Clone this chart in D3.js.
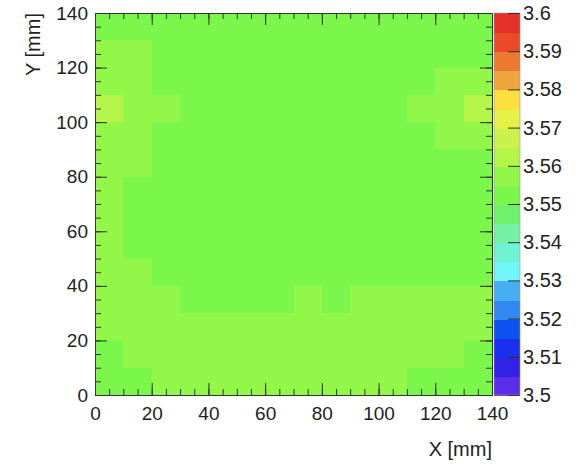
<!DOCTYPE html>
<html>
<head>
<meta charset="utf-8">
<script src="https://cdn.jsdelivr.net/npm/d3@7"></script>
<style>
  body{margin:0;background:#fff;}
  text{font-family:"Liberation Sans",Arial,Helvetica,sans-serif;fill:#222;}
</style>
</head>
<body>
<svg id="chart"></svg>
<script>
// bin edges (mm)
var xEdges=[0,10,20,30,40,50,60,70,80,90,100,110,120,130,140];
var yEdges=[0,10,20,30,40,50,60,70,80,90,100,110,120,130,140];
var axisTicks=[0,20,40,60,80,100,120,140];
// colour contours
var levels=[3.5,3.505,3.51,3.515,3.52,3.525,3.53,3.535,3.54,3.545,3.55,3.555,3.56,3.565,3.57,3.575,3.58,3.585,3.59,3.595,3.6];
var paletteColors=["#5a2ee8","#3222e8","#1a30f0","#0c52f0","#3088f0","#48aef2","#70f6f8","#6ef2d2","#74f2a4","#6ef26c",
                   "#7bf74c","#93f74a","#b6f44a","#caf24a","#e6f148","#fbe040","#f0a53c","#ec7a30","#ea4a28","#e6302a"];
var paletteLabels=[3.5,3.51,3.52,3.53,3.54,3.55,3.56,3.57,3.58,3.59,3.6];
// z values, rows from y=130 (top) down to y=0
var zRows=[
  [3.553,3.553,3.552,3.552,3.553,3.553,3.552,3.552,3.553,3.553,3.552,3.553,3.553,3.553],
  [3.557,3.556,3.553,3.552,3.552,3.552,3.552,3.552,3.552,3.552,3.553,3.553,3.554,3.554],
  [3.558,3.557,3.554,3.552,3.552,3.551,3.551,3.551,3.551,3.552,3.553,3.554,3.556,3.557],
  [3.561,3.558,3.556,3.553,3.552,3.551,3.551,3.551,3.551,3.552,3.553,3.556,3.558,3.561],
  [3.558,3.557,3.554,3.552,3.551,3.551,3.551,3.551,3.551,3.552,3.553,3.554,3.556,3.557],
  [3.557,3.556,3.553,3.552,3.551,3.551,3.551,3.551,3.551,3.551,3.552,3.553,3.554,3.554],
  [3.557,3.554,3.552,3.551,3.551,3.551,3.551,3.551,3.551,3.551,3.552,3.552,3.553,3.554],
  [3.557,3.554,3.552,3.551,3.551,3.551,3.551,3.551,3.551,3.551,3.551,3.552,3.553,3.554],
  [3.557,3.554,3.553,3.552,3.551,3.551,3.551,3.551,3.551,3.551,3.552,3.552,3.553,3.554],
  [3.558,3.556,3.554,3.553,3.552,3.552,3.552,3.553,3.553,3.553,3.553,3.554,3.554,3.554],
  [3.558,3.557,3.556,3.554,3.554,3.554,3.554,3.556,3.554,3.556,3.556,3.556,3.557,3.557],
  [3.557,3.558,3.557,3.556,3.556,3.556,3.556,3.557,3.557,3.557,3.557,3.557,3.557,3.556],
  [3.554,3.557,3.558,3.557,3.557,3.557,3.557,3.557,3.557,3.557,3.557,3.556,3.556,3.554],
  [3.553,3.554,3.556,3.557,3.557,3.557,3.557,3.557,3.557,3.557,3.556,3.554,3.554,3.553]
];

var width=578, height=476;
var margin={top:13,bot:81,left:95,right:86};
var svg=d3.select("#chart").attr("width",width).attr("height",height);

var xScale=d3.scaleLinear().domain([0,140]).range([margin.left,width-margin.right]);
var yScale=d3.scaleLinear().domain([0,140]).range([height-margin.bot,margin.top]);
var color=d3.scaleThreshold().domain(levels.slice(1,-1)).range(paletteColors);

// cells
var cells=[];
zRows.forEach(function(row,r){
  row.forEach(function(z,c){
    cells.push({x0:xEdges[c],x1:xEdges[c+1],y1:yEdges[13-r+1],y0:yEdges[13-r],z:z});
  });
});
svg.append("g").attr("shape-rendering","crispEdges")
   .selectAll("rect").data(cells).enter().append("rect")
   .attr("x",function(d){return xScale(d.x0);})
   .attr("y",function(d){return yScale(d.y1);})
   .attr("width",function(d){return xScale(d.x1)-xScale(d.x0)+1;})
   .attr("height",function(d){return yScale(d.y0)-yScale(d.y1)+1;})
   .attr("fill",function(d){return color(d.z);});

// axes, ticks inward on all four sides
var minor=d3.range(0,141,5);
function tickAxis(axis,tr,len,vals,labels){
  var g=svg.append("g").attr("transform",tr)
     .call(axis.tickValues(vals).tickSizeInner(-len).tickSizeOuter(0).tickPadding(labels?8:0)
               .tickFormat(labels?d3.format("d"):""));
  g.select(".domain").attr("stroke","#333");
  g.selectAll(".tick line").attr("stroke","#333");
  g.selectAll("text").style("font-size","19px");
  return g;
}
var bx="translate(0,"+yScale(0)+")", tx="translate(0,"+yScale(140)+")";
var ly="translate("+xScale(0)+",0)", ry="translate("+xScale(140)+",0)";
tickAxis(d3.axisBottom(xScale),bx,6,minor,false);
tickAxis(d3.axisBottom(xScale),bx,12,axisTicks,true).selectAll("text").attr("dy","0.9em");
tickAxis(d3.axisTop(xScale),tx,6,minor,false);
tickAxis(d3.axisTop(xScale),tx,12,axisTicks,false);
tickAxis(d3.axisLeft(yScale),ly,6,minor,false);
tickAxis(d3.axisLeft(yScale),ly,12,axisTicks,true).selectAll("text").attr("dx","1px");
tickAxis(d3.axisRight(yScale),ry,6,minor,false);
tickAxis(d3.axisRight(yScale),ry,12,axisTicks,false);

// palette
var pScale=d3.scaleLinear().domain([3.5,3.6]).range([height-margin.bot,margin.top]);
var px0=494, px1=520;
svg.append("g").attr("shape-rendering","crispEdges")
   .selectAll("rect").data(paletteColors).enter().append("rect")
   .attr("x",px0)
   .attr("y",function(d,i){return pScale(levels[i+1]);})
   .attr("width",px1-px0)
   .attr("height",function(d,i){return pScale(levels[i])-pScale(levels[i+1])+1;})
   .attr("fill",function(d){return d;});
svg.append("rect").attr("x",px0).attr("y",pScale(3.6)).attr("width",px1-px0)
   .attr("height",pScale(3.5)-pScale(3.6)).attr("fill","none").attr("stroke","#999").attr("stroke-width",0.6);
var pg=svg.append("g").attr("transform","translate("+px1+",0)")
   .call(d3.axisRight(pScale).tickValues(paletteLabels).tickSizeInner(-12).tickSizeOuter(0).tickPadding(3)
          .tickFormat(function(d){return d3.format("")(+d.toFixed(2));}));
pg.select(".domain").remove();
pg.selectAll(".tick line").attr("stroke","#333");
pg.selectAll("text").style("font-size","20px");

// titles
svg.append("text").attr("x",xScale(140)).attr("y",456).attr("text-anchor","end")
   .style("font-size","20px").text("X [mm]");
svg.append("text").attr("transform","translate(40,"+yScale(140)+") rotate(-90)")
   .attr("text-anchor","end").style("font-size","20px").text("Y [mm]");
</script>
</body>
</html>
